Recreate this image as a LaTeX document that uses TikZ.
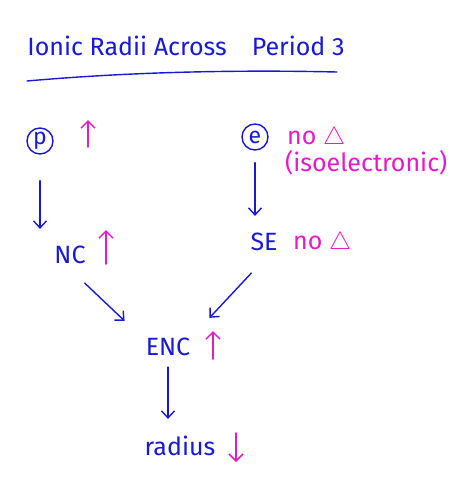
\documentclass[tikz,border=0pt]{standalone}
\usepackage{fontspec}
\setmainfont{Fira Sans}
\usepackage{amssymb}
\usetikzlibrary{arrows.meta,positioning,calc}
\definecolor{inkblue}{RGB}{24,24,214}
\definecolor{inkpink}{RGB}{232,24,204}
\tikzset{
  ink/.style={inkblue, line width=1.4pt, line cap=round},
  flow/.style={-{Straight Barb[length=7pt,width=13pt,line width=1.4pt]}, ink},
  rise/.style={-{Straight Barb[length=7pt,width=14pt,line width=1.5pt]}, inkpink, line width=1.5pt, line cap=round},
  term/.style={text=inkblue, font=\fontsize{25}{27}\selectfont, inner sep=1pt},
  bubble/.style={draw=inkblue, line width=1.4pt, circle, inner sep=1pt, minimum size=26pt,
    text=inkblue, font=\fontsize{23}{24}\selectfont},
  note/.style={text=inkpink, font=\fontsize{25}{28}\selectfont, inner sep=1pt, anchor=west}
}
\begin{document}
\begin{tikzpicture}[x=1pt,y=-1pt]
  \useasboundingbox (0,0) rectangle (474,483);
  % heading
  \node[term, font=\fontsize{25}{28}\selectfont] (title) at (186,46) {Ionic Radii Across\quad Period 3};
  \draw[ink] (27,81) .. controls (140,71) and (250,70) .. (337,72);
  % causes
  \node[bubble] (p) at (40,141) {p};
  \node[bubble] (e) at (255,137) {e};
  \node[note] (enote) at (286,138) {no $\triangle$};
  \node[note] (iso) at (284,163) {(isoelectronic)};
  % intermediate
  \node[term] (nc) at (70,255) {NC};
  \node[term] (se) at (264,242) {SE};
  \node[note] (senote) at (292,243) {no $\triangle$};
  % effect
  \node[term] (enc) at (168,347) {ENC};
  \node[term] (radius) at (180,446) {radius};
  % trends
  \coordinate (pup) at (88,147);
  \coordinate (ncup) at (106,264);
  \coordinate (encup) at (213,359);
  \coordinate (rdown) at (236,433);
  \draw[rise] (pup) -- ++(0,-27);
  \draw[rise] (ncup) -- ++(0,-34);
  \draw[rise] (encup) -- ++(0,-28);
  \draw[rise] (rdown) -- ++(0,29);
  % links
  \draw[flow] ([yshift=-26pt]p.south) -- ([yshift=16pt]p |- nc.north);
  \draw[flow] ([yshift=-12pt]e.south) -- ([yshift=16pt]e |- se.north);
  \draw[flow] ($(nc.south east)+(-2,18)$) -- ($(enc.north west)+(-20,-16)$);
  \draw[flow] ($(se.south west)+(2,21)$) -- ($(enc.north east)+(18,-19)$);
  \draw[flow] ([yshift=-10pt]enc.south) -- ([yshift=16pt]enc |- radius.north);
\end{tikzpicture}
\end{document}
